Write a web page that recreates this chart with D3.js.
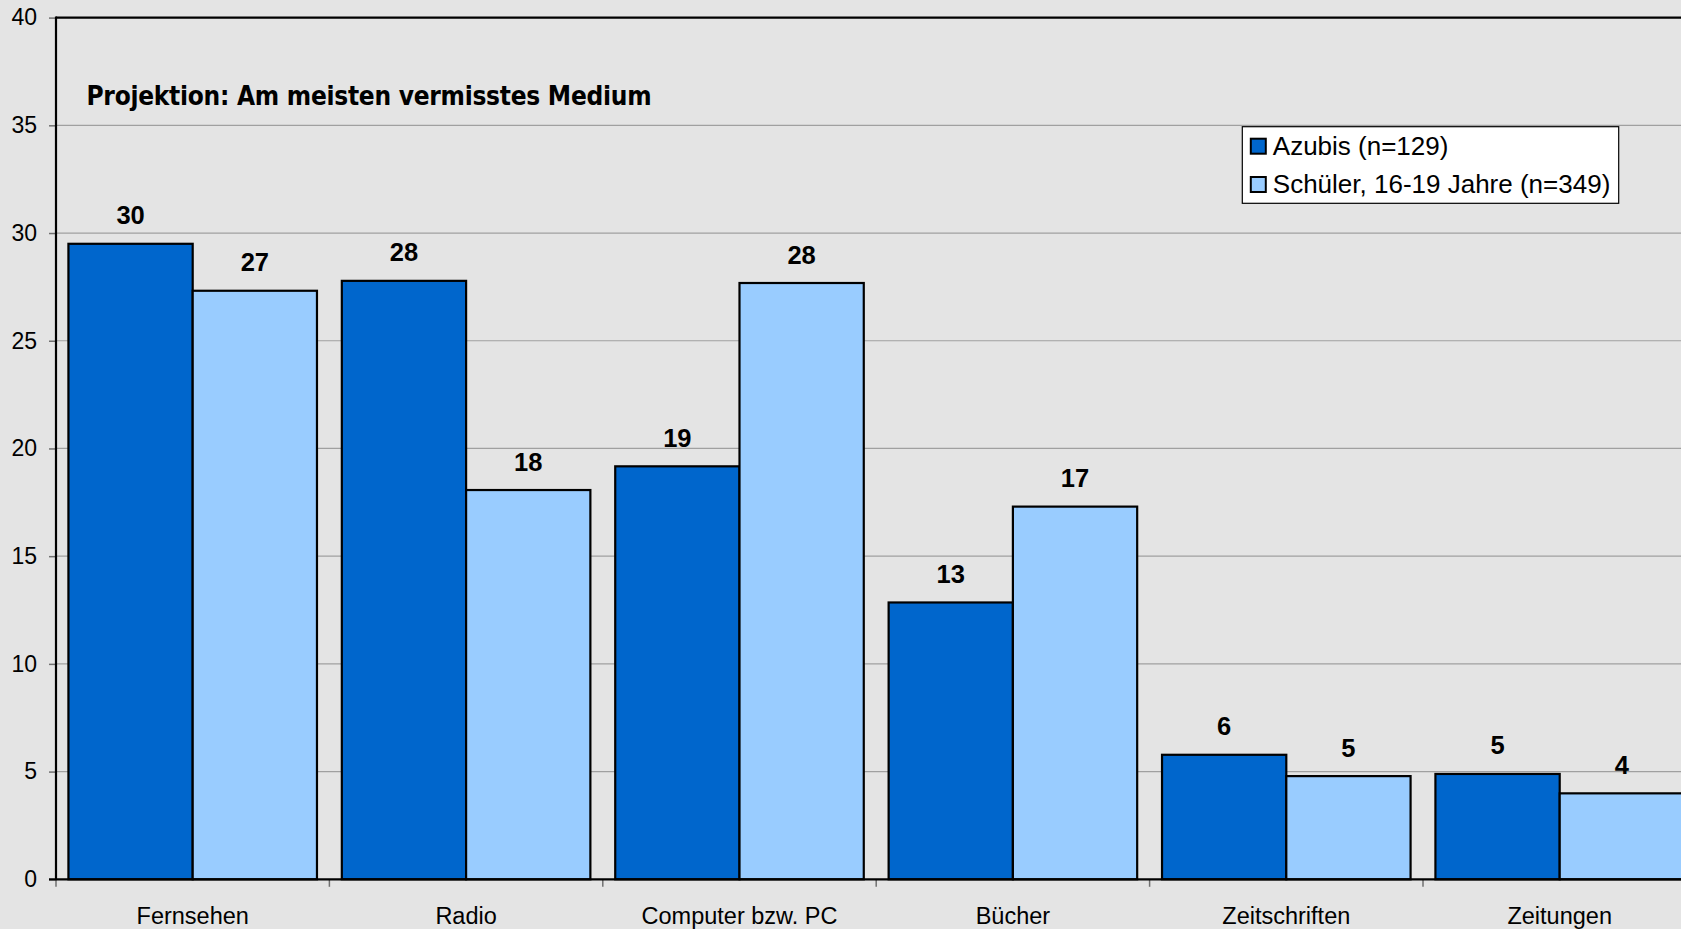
<!DOCTYPE html>
<html>
<head>
<meta charset="utf-8">
<script src="https://cdn.jsdelivr.net/npm/d3@7"></script>
<style>
  html, body { margin: 0; padding: 0; background: #e4e4e4; }
  svg { display: block; }
  text { font-family: "Liberation Sans", Arial, sans-serif; fill: #000; }
</style>
</head>
<body>
<svg id="chart" width="1681" height="929"></svg>
<script>
// Categories (media) and the two survey groups
const categories = ["Fernsehen", "Radio", "Computer bzw. PC", "Bücher", "Zeitschriften", "Zeitungen"];
const seriesKeys = ["azubis", "schueler"];
const seriesNames = ["Azubis (n=129)", "Schüler, 16-19 Jahre (n=349)"];
const seriesColors = ["#0066cc", "#99ccff"];

// Share (in %) naming the medium as the most missed one
const azubis   = [29.5, 27.78, 19.17, 12.85, 5.78, 4.89];
const schueler = [27.32, 18.07, 27.68, 17.30, 4.79, 3.99];

const yTicks = [0, 5, 10, 15, 20, 25, 30, 35, 40];
const titleText = "Projektion: Am meisten vermisstes Medium";

const svg = d3.select("#chart");
const W = 1681, H = 929;
const plot = { left: 56, right: 1696.4, top: 17.6, bottom: 879.3 };

svg.append("rect").attr("width", W).attr("height", H).attr("fill", "#e4e4e4");

const x = d3.scaleBand().domain(categories).range([plot.left, plot.right]).padding(0);
const xs = d3.scaleBand().domain(seriesKeys).range([0, x.bandwidth()]).paddingInner(0).paddingOuter(0.1);
const y = d3.scaleLinear().domain([0, 40]).range([plot.bottom, plot.top]);

const values = { azubis, schueler };

// Horizontal gridlines
svg.append("g").selectAll("line")
  .data(yTicks.filter(t => t > 0 && t < 40))
  .join("line")
  .attr("x1", plot.left).attr("x2", plot.right)
  .attr("y1", d => y(d)).attr("y2", d => y(d))
  .attr("stroke", "#a0a0a0").attr("stroke-width", 1.2);

// Plot area frame (top edge at 40)
svg.append("line")
  .attr("x1", plot.left).attr("x2", plot.right)
  .attr("y1", y(40)).attr("y2", y(40))
  .attr("stroke", "#000").attr("stroke-width", 2.2);

// Bars
const groups = svg.append("g").selectAll("g")
  .data(categories)
  .join("g")
  .attr("transform", c => `translate(${x(c)},0)`);

groups.selectAll("rect")
  .data((c, i) => seriesKeys.map((k, s) => ({ k, s, v: values[k][i] })))
  .join("rect")
  .attr("x", d => xs(d.k))
  .attr("width", xs.bandwidth())
  .attr("y", d => y(d.v))
  .attr("height", d => y(0) - y(d.v))
  .attr("fill", d => seriesColors[d.s])
  .attr("stroke", "#000")
  .attr("stroke-width", 2.2);

// Value labels
groups.selectAll("text.val")
  .data((c, i) => seriesKeys.map((k, s) => ({ k, s, v: values[k][i] })))
  .join("text")
  .attr("class", "val")
  .attr("x", d => xs(d.k) + xs.bandwidth() / 2)
  .attr("y", d => y(d.v) - 19.5)
  .attr("text-anchor", "middle")
  .attr("font-weight", "bold")
  .attr("font-size", 25.5)
  .text(d => Math.round(d.v));

// Y axis
const yAxis = d3.axisLeft(y).tickValues(yTicks).tickSize(7).tickPadding(12).tickFormat(d3.format("d"));
const yg = svg.append("g").attr("transform", `translate(${plot.left},0)`).call(yAxis);
yg.select(".domain").remove();
yg.selectAll(".tick line").attr("stroke", "#707070").attr("stroke-width", 1.5);
yg.selectAll(".tick text").attr("font-size", 23).attr("font-family", "Liberation Sans, Arial, sans-serif").attr("fill", "#000");
svg.append("line")
  .attr("x1", plot.left).attr("x2", plot.left)
  .attr("y1", y(40) - 1).attr("y2", y(0) + 1)
  .attr("stroke", "#000").attr("stroke-width", 2.2);

// X axis: category labels and boundary ticks
const xAxis = d3.axisBottom(x).tickSize(0).tickPadding(28);
const xg = svg.append("g").attr("transform", `translate(0,${plot.bottom})`).call(xAxis);
xg.select(".domain").remove();
xg.selectAll(".tick text").attr("font-size", 23.5).attr("font-family", "Liberation Sans, Arial, sans-serif").attr("fill", "#000");

svg.append("g").selectAll("line")
  .data(categories)
  .join("line")
  .attr("x1", c => x(c)).attr("x2", c => x(c))
  .attr("y1", plot.bottom).attr("y2", plot.bottom + 7.5)
  .attr("stroke", "#707070").attr("stroke-width", 1.5);

svg.append("line")
  .attr("x1", plot.left - 7).attr("x2", plot.right)
  .attr("y1", plot.bottom).attr("y2", plot.bottom)
  .attr("stroke", "#000").attr("stroke-width", 2.2);

// Title inside the plot area
svg.append("text")
  .attr("x", 86.5)
  .attr("y", 105)
  .style("font-family", "'DejaVu Sans Condensed', 'DejaVu Sans', sans-serif")
  .style("font-stretch", "condensed")
  .attr("font-weight", "bold")
  .attr("font-size", 26)
  .attr("textLength", 565)
  .attr("lengthAdjust", "spacing")
  .text(titleText);

// Legend
const legend = svg.append("g").attr("transform", "translate(1242.3,126.7)");
legend.append("rect")
  .attr("width", 376.4).attr("height", 76.6)
  .attr("fill", "#fff").attr("stroke", "#000").attr("stroke-width", 1.2);
const items = legend.selectAll("g.item")
  .data(seriesNames)
  .join("g")
  .attr("class", "item")
  .attr("transform", (d, i) => `translate(0,${i * 38.3})`);
items.append("rect")
  .attr("x", 8.5).attr("y", 12)
  .attr("width", 15).attr("height", 15)
  .attr("fill", (d, i) => seriesColors[i])
  .attr("stroke", "#000").attr("stroke-width", 2);
items.append("text")
  .attr("x", 30.5)
  .attr("y", 28.3)
  .attr("font-size", 26)
  .text(d => d);
</script>
</body>
</html>
